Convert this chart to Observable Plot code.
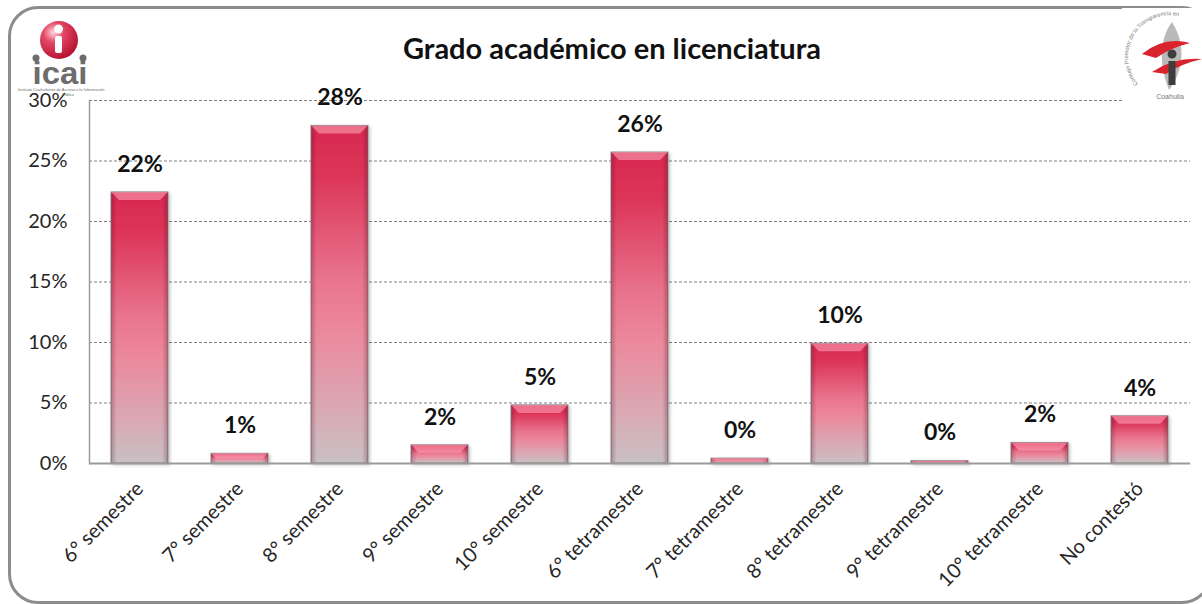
<!DOCTYPE html>
<html><head><meta charset="utf-8">
<script src="https://cdn.jsdelivr.net/npm/d3@7"></script>
<script src="https://cdn.jsdelivr.net/npm/@observablehq/plot@0.6"></script>
<style>
html,body{margin:0;padding:0;background:#fff;}
#wrap{position:relative;width:1202px;height:604px;overflow:hidden;font-family:Lato,"Open Sans",sans-serif;}
#frame{position:absolute;left:8px;top:6px;width:1204px;height:598px;border:3px solid #8c8c8c;border-radius:30px;box-sizing:border-box;pointer-events:none;}
#title{height:80px;box-sizing:border-box;padding-top:33px;padding-left:22px;text-align:center;font-size:29px;line-height:30px;font-weight:bold;color:#111;}
#chart svg{display:block;}
#logoL{position:absolute;left:0;top:0;}
#logoR{position:absolute;left:1122px;top:8px;background:#fff;}
</style></head>
<body>
<div id="wrap">
  <div id="title">Grado académico en licenciatura</div>
  <div id="chart"></div>
  <div id="frame"></div>
  <svg id="logoL" width="120" height="100" viewBox="0 0 120 100">
    <defs>
      <radialGradient id="redBall" cx="0.35" cy="0.3" r="0.75">
        <stop offset="0" stop-color="#ffd6de"/>
        <stop offset="0.35" stop-color="#e44766"/>
        <stop offset="1" stop-color="#b3102f"/>
      </radialGradient>
    </defs>
    <circle cx="59" cy="40" r="19" fill="url(#redBall)"/>
    <circle cx="58.5" cy="29" r="4.5" fill="#fff"/>
    <rect x="55" y="36" width="7" height="17" rx="2" fill="#fff"/>
    <circle cx="36" cy="58" r="3.5" fill="#6d6d6d"/>
    <circle cx="83" cy="58" r="3.5" fill="#6d6d6d"/>
    <text x="60" y="84" text-anchor="middle" font-family="Liberation Sans, Arial, sans-serif" font-weight="bold" font-size="31" fill="#6d6d6d" textLength="55" lengthAdjust="spacingAndGlyphs">icai</text>
    <text x="18" y="91" font-family="Liberation Sans, Arial, sans-serif" font-size="4" fill="#6d6d6d">Instituto Coahuilense de Acceso a la Información</text>
    <text x="62" y="95.5" font-family="Liberation Sans, Arial, sans-serif" font-size="3.6" fill="#6d6d6d">Pública</text>
  </svg>
  <svg id="logoR" width="80" height="98" viewBox="0 0 80 98">
    <defs>
      <path id="arcR" d="M 16 76 A 35 35 0 0 1 80 22"/>
    </defs>
    <text font-family="Liberation Sans, Arial, sans-serif" font-size="5.6" fill="#777"><textPath href="#arcR">Consejo Promotor de la Transparencia en</textPath></text>
    <path d="M 50 14 C 38 30 36 54 47 82 C 62 62 64 36 50 14 Z" fill="#b9b9b9"/>
    <path d="M 20 46 Q 42 28 68 35 Q 48 40 34 50 Z" fill="#d9232d"/>
    <path d="M 30 64 Q 52 49 80 51 Q 58 56 44 66 Z" fill="#d9232d"/>
    <circle cx="50" cy="46" r="4.5" fill="#3d3d3d"/>
    <rect x="46.5" y="53" width="7" height="24" fill="#3d3d3d"/>
    <text x="48" y="91" text-anchor="middle" font-family="Liberation Sans, Arial, sans-serif" font-size="7" fill="#777">Coahuila</text>
  </svg>
</div>
<script>
const categories = ["6° semestre","7° semestre","8° semestre","9° semestre","10° semestre","6° tetramestre","7° tetramestre","8° tetramestre","9° tetramestre","10° tetramestre","No contestó"];
const values = [22.4, 0.8, 27.9, 1.5, 4.8, 25.7, 0.4, 9.9, 0.2, 1.7, 3.9];
const valueLabels = ["22%","1%","28%","2%","5%","26%","0%","10%","0%","2%","4%"];
const yTicks = [0, 5, 10, 15, 20, 25, 30];

const data = categories.map((c, i) => ({category: c, value: values[i], label: valueLabels[i]}));

const chart = Plot.plot({
  width: 1202,
  height: 524,
  marginTop: 20,
  marginBottom: 141,
  marginLeft: 89,
  marginRight: 12,
  style: {fontFamily: "Lato, 'Open Sans', sans-serif", color: "#262626", background: "transparent", overflow: "visible"},
  x: {domain: categories, paddingInner: 0.43, paddingOuter: 0.215, label: null},
  y: {domain: [0, 30], label: null},
  marks: [
    Plot.gridY(yTicks.slice(1), {stroke: "#808080", strokeOpacity: 1, strokeDasharray: "3,2"}),
    Plot.barY(data, {x: "category", y: "value", fill: "url(#barGrad)", stroke: "#8f8589", strokeWidth: 1}),
    Plot.barY(data, {x: "category", y: "value", fill: "url(#sideGrad)"}),
    Plot.ruleY([0], {stroke: "#9a9a9a", strokeWidth: 2}),
    Plot.frame({anchor: "left", stroke: "#9a9a9a", strokeWidth: 1.5}),
    Plot.axisY({ticks: yTicks, tickFormat: d => d + "%", tickSize: 0, tickPadding: 22, fontSize: 20}),
    Plot.axisX({tickRotate: -45, tickSize: 0, tickPadding: 22, fontSize: 20}),
    Plot.text(data, {x: "category", y: "value", text: "label", dy: -28, fontSize: 23, fontWeight: "bold", fill: "#111"})
  ]
});

document.getElementById("chart").appendChild(chart);

const svg = d3.select(chart);
const defs = svg.insert("defs", ":first-child");
const g1 = defs.append("linearGradient").attr("id", "barGrad").attr("x1", 0).attr("y1", 0).attr("x2", 0).attr("y2", 1);
[[0, "#d8284f"], [0.15, "#dc3559"], [0.45, "#e8738c"], [0.6, "#ec879b"], [0.85, "#d9aab5"], [1, "#c8c0c3"]]
  .forEach(([o, c]) => g1.append("stop").attr("offset", o).attr("stop-color", c));
const g2 = defs.append("linearGradient").attr("id", "sideGrad").attr("x1", 0).attr("y1", 0).attr("x2", 1).attr("y2", 0);
[[0, "rgba(60,0,20,0.25)"], [0.1, "rgba(60,0,20,0)"], [0.9, "rgba(60,0,20,0)"], [1, "rgba(60,0,20,0.28)"]]
  .forEach(([o, c]) => g2.append("stop").attr("offset", o).attr("stop-color", c));
const sh = defs.append("filter").attr("id", "shadow").attr("x", "-20%").attr("y", "-20%").attr("width", "140%").attr("height", "140%");
sh.append("feDropShadow").attr("dx", 1.5).attr("dy", 1.5).attr("stdDeviation", 1.5).attr("flood-color", "#000").attr("flood-opacity", 0.25);

const barGroups = svg.selectAll("g[aria-label='bar']").nodes();
if (barGroups.length) {
  d3.select(barGroups[0]).attr("filter", "url(#shadow)");
  const bevel = d3.select(barGroups[barGroups.length - 1].parentNode)
    .insert("g", () => barGroups[barGroups.length - 1].nextSibling);
  d3.select(barGroups[0]).selectAll("rect").each(function() {
    const r = this;
    const x = +r.getAttribute("x"), y = +r.getAttribute("y"), w = +r.getAttribute("width"), h = +r.getAttribute("height");
    const b = Math.min(8, h / 2);
    bevel.append("polygon")
      .attr("points", `${x},${y} ${x + w},${y} ${x + w - b},${y + b} ${x + b},${y + b}`)
      .attr("fill", "rgba(255,170,190,0.55)");
  });
}
</script>
</body></html>
